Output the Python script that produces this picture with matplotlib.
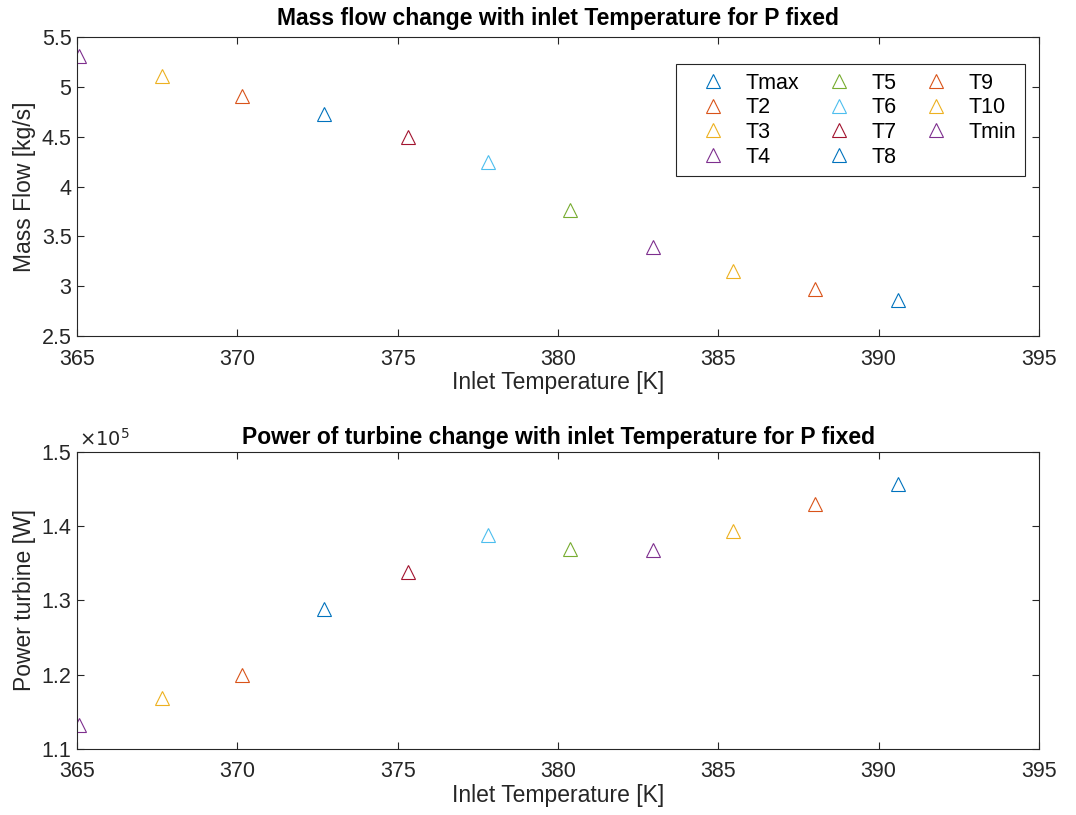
import matplotlib
matplotlib.use("Agg")
import matplotlib.pyplot as plt
from matplotlib.ticker import FuncFormatter

# inlet temperatures [K], one per case
names = ["Tmax", "T2", "T3", "T4", "T5", "T6", "T7", "T8", "T9", "T10", "Tmin"]
temps = [390.61, 388.02, 385.46, 382.95, 380.38, 377.83, 375.31, 372.7, 370.15, 367.64, 365.06]
mass_flow = [2.86, 2.97, 3.15, 3.39, 3.76, 4.25, 4.50, 4.73, 4.91, 5.11, 5.305]
power = [1.457e5, 1.430e5, 1.394e5, 1.368e5, 1.369e5, 1.388e5, 1.338e5, 1.289e5, 1.200e5, 1.169e5, 1.132e5]

# matlab default line colours
mcolors = ["#0072BD", "#D95319", "#EDB120", "#7E2F8E", "#77AC30", "#4DBEEE", "#A2142F"]

plt.rcParams['font.family'] = ['Liberation Sans', 'DejaVu Sans']
axcol = "#262626"

fig = plt.figure(figsize=(10.76, 8.15), dpi=100)
ax1 = fig.add_axes([0.0716, 0.5877, 0.894, 0.3669])
ax2 = fig.add_axes([0.0716, 0.081, 0.894, 0.3644])

def style(ax):
  ax.set_xlim(365, 395)
  ax.set_xticks([365, 370, 375, 380, 385, 390, 395])
  ax.tick_params(direction="in", top=True, right=True, length=5, width=0.8,
                 colors=axcol, labelsize=15.5, labelcolor=axcol)
  ax.tick_params(axis="x", pad=9)
  ax.tick_params(axis="y", pad=4)
  for s in ax.spines.values():
    s.set_color(axcol)
    s.set_linewidth(0.8)
  ax.set_xlabel("Inlet Temperature [K]", fontsize=16.5, color=axcol, labelpad=1)

for i in range(len(names)):
  c = mcolors[i % 7]
  ax1.plot(temps[i], mass_flow[i], "^", mfc="none", mec=c, ms=10.5, mew=0.8, label=names[i])
  ax2.plot(temps[i], power[i], "^", mfc="none", mec=c, ms=10.5, mew=0.8, label=names[i])

style(ax1)
ax1.set_ylim(2.5, 5.5)
ax1.set_yticks([2.5, 3, 3.5, 4, 4.5, 5, 5.5])
ax1.yaxis.set_major_formatter(FuncFormatter(lambda v, p: "%g" % v))
ax1.set_ylabel("Mass Flow [kg/s]", fontsize=16.5, color=axcol, labelpad=4)
ax1.set_title("Mass flow change with inlet Temperature for P fixed", fontsize=16.5,
              fontweight="bold", pad=9)

leg = ax1.legend(ncol=3, loc="upper right", bbox_to_anchor=(0.9854, 0.9097),
                 borderaxespad=0, fontsize=15.5, fancybox=False, framealpha=1,
                 edgecolor=axcol, handletextpad=0.21, columnspacing=0.5,
                 labelspacing=0.17, handlelength=2.64, borderpad=0.4)
leg.get_frame().set_linewidth(0.8)

style(ax2)
ax2.set_ylim(1.1e5, 1.5e5)
ax2.set_yticks([1.1e5, 1.2e5, 1.3e5, 1.4e5, 1.5e5])
ax2.yaxis.set_major_formatter(FuncFormatter(lambda v, p: "%g" % (v / 1e5)))
ax2.set_ylabel("Power turbine [W]", fontsize=16.5, color=axcol, labelpad=4)
ax2.set_title("Power of turbine change with inlet Temperature for P fixed", fontsize=16.5,
              fontweight="bold", pad=6)
ax2.text(0.002, 1.006, r"$\times10^{5}$", transform=ax2.transAxes, fontsize=14,
         color=axcol, ha="left", va="bottom")

fig.savefig("out.png", dpi=100)
